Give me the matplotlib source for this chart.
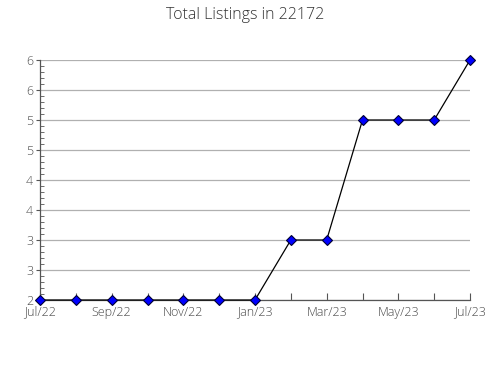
import matplotlib
matplotlib.use("Agg")
import matplotlib.pyplot as plt
from matplotlib.ticker import MultipleLocator

months = ["Jul/22", "Aug/22", "Sep/22", "Oct/22", "Nov/22", "Dec/22", "Jan/23",
          "Feb/23", "Mar/23", "Apr/23", "May/23", "Jun/23", "Jul/23"]
values = [2, 2, 2, 2, 2, 2, 2, 3, 3, 5, 5, 5, 6]
ytick_vals = [2, 2.5, 3, 3.5, 4, 4.5, 5, 5.5, 6]
ytick_labels = ["2", "3", "3", "4", "4", "5", "5", "6", "6"]

plt.rcParams['font.family'] = ['Open Sans', 'DejaVu Sans']

fig = plt.figure(figsize=(4.9, 3.8), dpi=100)
ax = fig.add_axes([40/490, 1 - 300/380, 430/490, 240/380])

x = list(range(len(months)))
ax.plot(x, values, color='black', lw=0.9, marker='D', markersize=5,
        markerfacecolor='#0000ff', markeredgecolor='#000033', markeredgewidth=0.8,
        zorder=3, clip_on=False)

ax.set_xlim(0, len(months) - 1)
ax.set_ylim(2, 6)
ax.set_xticks(x)
ax.set_xticklabels([m if i % 2 == 0 else "" for i, m in enumerate(months)])
ax.set_yticks(ytick_vals)
ax.set_yticklabels(ytick_labels)
ax.yaxis.set_minor_locator(MultipleLocator(0.1))

ax.grid(axis='y', color='#b0b0b0', lw=0.9)
ax.set_axisbelow(True)
for s in ['top', 'right']:
    ax.spines[s].set_visible(False)
for s in ['left', 'bottom']:
    ax.spines[s].set_color('#555555')
    ax.spines[s].set_linewidth(0.9)

ax.tick_params(axis='x', direction='in', length=5, color='#555555', labelcolor='#4a4a4a',
               labelsize=9, pad=4)
ax.tick_params(axis='y', which='major', direction='out', length=3, color='#555555',
               labelcolor='#4a4a4a', labelsize=9, pad=2)
ax.tick_params(axis='y', which='minor', direction='in', length=3, color='#555555')
for lab in ax.get_xticklabels() + ax.get_yticklabels():
    lab.set_fontweight('light')

fig.text(245/490, 1 - 15/380, "Total Listings in 22172", ha='center', va='center',
         fontsize=11.5, color='#333333', fontweight='light')

fig.savefig("out.png", dpi=100)
